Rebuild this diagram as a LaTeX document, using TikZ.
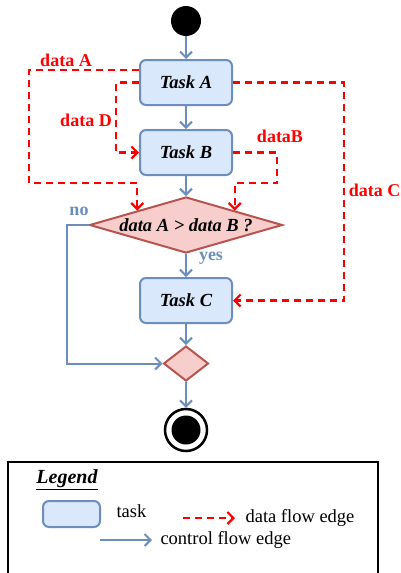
\documentclass[tikz,border=0pt]{standalone}
\usepackage{fontspec}
\setmainfont{Liberation Serif}
\usetikzlibrary{shapes.geometric,arrows.meta}
\definecolor{ctrlblue}{HTML}{6C8EBF}
\definecolor{taskfill}{HTML}{DAE8FC}
\definecolor{decfill}{HTML}{F8CECC}
\definecolor{decline}{HTML}{B85450}
\definecolor{datared}{HTML}{FF0000}
\tikzset{
	task/.style={draw=ctrlblue, fill=taskfill, line width=2pt, rounded corners=6pt, minimum width=92pt, minimum height=45pt, font=\fontsize{18.5}{22}\selectfont\bfseries\itshape},
	decision/.style={diamond, draw=decline, fill=decfill, line width=2pt, aspect=3.4, inner sep=0pt, font=\fontsize{18.5}{22}\selectfont\bfseries\itshape},
	ctrlflow/.style={draw=ctrlblue, line width=2pt, -{Straight Barb[length=6pt,width=12pt]}},
	dataflow/.style={draw=datared, line width=2.2pt, dash pattern=on 7pt off 5pt, -{Straight Barb[length=6pt,width=12pt]}},
	datalbl/.style={text=datared, font=\fontsize{18}{21}\selectfont\bfseries},
	ctrllbl/.style={text=ctrlblue, font=\fontsize{18}{21}\selectfont\bfseries},
	legtxt/.style={anchor=west, font=\fontsize{18.5}{22}\selectfont},
}
\begin{document}
\begin{tikzpicture}[x=1pt, y=-1pt]
	\useasboundingbox (0,0) rectangle (401,573);
	\clip (0,0) rectangle (401,573);
	\node[circle, fill=black, minimum size=30pt, inner sep=0pt] (start) at (186,21) {};
	\node[task] (taskA) at (186,82.5) {Task A};
	\node[task] (taskB) at (186,152.5) {Task B};
	\node[decision, minimum width=193pt, minimum height=56pt] (cond) at (186,225) {data A > data B ?};
	\node[task] (taskC) at (186,300.5) {Task C};
	\node[diamond, draw=decline, fill=decfill, line width=2pt, minimum width=45pt, minimum height=35pt, inner sep=0pt] (merge) at (186,363.5) {};
	\node[circle, draw=black, fill=white, line width=2.5pt, minimum size=42pt, inner sep=0pt] (stop) at (186,430) {};
	\node[circle, fill=black, minimum size=29pt, inner sep=0pt] (stopin) at (stop.center) {};
	\draw[ctrlflow] (start) -- (taskA);
	\draw[ctrlflow] (taskA) -- (taskB);
	\draw[ctrlflow] (taskB) -- (cond);
	\draw[ctrlflow] (cond) -- (taskC);
	\draw[ctrlflow] (taskC) -- (merge);
	\draw[ctrlflow] (merge) -- (stop);
	\draw[ctrlflow] (cond.west) -- ++(-22,0) |- (merge.west);
	\node[ctrllbl] (no) at (79,211) {no};
	\node[ctrllbl] (yes) at (211,258) {yes};
	\draw[dataflow] ([yshift=12.5pt]taskA.west) -- ++(-110,0) |- ([yshift=27.5pt]cond.north west) -- (cond.north west);
	\draw[dataflow] (taskA.west) -- ++(-23,0) |- (taskB.west);
	\draw[dataflow] (taskB.east) -- ++(44,0) |- ([yshift=27.5pt]cond.north east) -- (cond.north east);
	\draw[dataflow] (taskA.east) -- ++(111,0) |- (taskC.east);
	\node[datalbl] (lblA) at (66,60) {data A};
	\node[datalbl] (lblD) at (86,120) {data D};
	\node[datalbl] (lblB) at (280,136) {dataB};
	\node[datalbl] (lblC) at (374.5,190) {data C};
	\draw[black, line width=2pt] (8,462) rectangle (378,590);
	\node[font=\fontsize{20}{24}\selectfont\bfseries\itshape] (legend) at (67,480) {\underline{Legend}};
	\node[task, minimum width=57pt, minimum height=26pt] (legtask) at (71.5,514) {};
	\node[legtxt] (legtasktxt) at (113,511) {task};
	\coordinate (dfa) at (183,518);
	\coordinate (dfb) at (235,518);
	\draw[dataflow] (dfa) -- (dfb);
	\node[legtxt] (legdata) at (242,518) {data flow edge};
	\coordinate (cfa) at (100,540);
	\coordinate (cfb) at (152,540);
	\draw[ctrlflow] (cfa) -- (cfb);
	\node[legtxt] (legctrl) at (157,540) {control flow edge};
\end{tikzpicture}
\end{document}
